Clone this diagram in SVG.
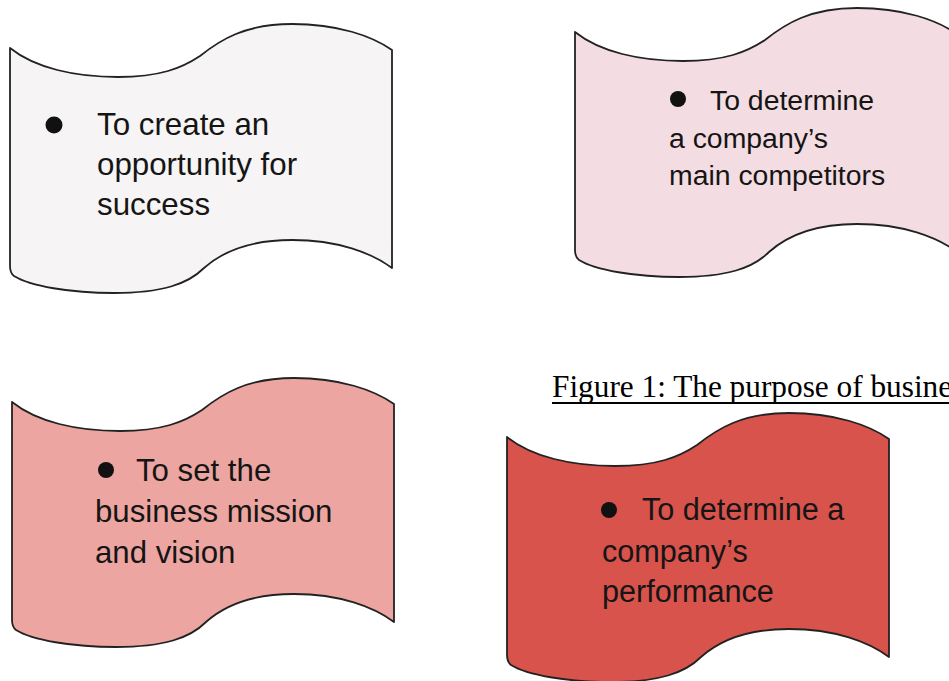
<svg xmlns="http://www.w3.org/2000/svg" xmlns:xlink="http://www.w3.org/1999/xlink" width="949" height="681" viewBox="0 0 949 681">
<style>
.flag{stroke:#222;stroke-width:1.8;stroke-linejoin:round}
.t{font-family:"Liberation Sans",Arial,sans-serif;fill:#151515}
.dot{fill:#111}
.cap{font-family:"Liberation Serif","Times New Roman",serif;font-size:31.3px;fill:#000}
</style>
<defs>
<path id="flagShape" d="M0,0 C25,20 65,29 108,29 C150,29 172,20 190,8 C210,-8 235,-24 282,-24 C328,-24 362,-12 382,2 L382,220 C362,205 328,192 282,192 C238,192 212,204 194,220 C178,236 152,245 104,245 C60,245 20,238 4,228 Q0,225 0,218 Z"/>
</defs>
<rect width="949" height="681" fill="#ffffff"/>
<g id="node-opportunity">
<use xlink:href="#flagShape" href="#flagShape" class="flag" fill="#f6f4f4" transform="translate(10,48)"/>
<circle class="dot" cx="54" cy="125" r="8.5"/>
<text class="t" font-size="31.3"><tspan x="97" y="135">To create an</tspan><tspan x="97" y="175">opportunity for</tspan><tspan x="97" y="215">success</tspan></text>
</g>
<g id="node-competitors">
<use xlink:href="#flagShape" href="#flagShape" class="flag" fill="#f4dde2" transform="translate(575,32)"/>
<circle class="dot" cx="678" cy="99" r="8"/>
<text class="t" font-size="28.4"><tspan x="710" y="110">To determine</tspan><tspan x="669" y="148">a company’s</tspan><tspan x="669" y="185">main competitors</tspan></text>
</g>
<g id="node-mission">
<use xlink:href="#flagShape" href="#flagShape" class="flag" fill="#eca5a0" transform="translate(12,402)"/>
<circle class="dot" cx="106" cy="470" r="8"/>
<text class="t" font-size="31.2"><tspan x="136" y="481">To set the</tspan><tspan x="95" y="522">business mission</tspan><tspan x="95" y="563">and vision</tspan></text>
</g>
<g id="node-performance">
<use xlink:href="#flagShape" href="#flagShape" class="flag" fill="#d8534b" transform="translate(507,437)"/>
<circle class="dot" cx="609" cy="510" r="8"/>
<text class="t" font-size="30.6"><tspan x="642" y="520">To determine a</tspan><tspan x="602" y="562">company’s</tspan><tspan x="602" y="602">performance</tspan></text>
</g>
<g id="caption">
<text class="cap" x="552" y="397">Figure 1: The purpose of busine</text>
<line x1="552" y1="403" x2="949" y2="403" stroke="#000" stroke-width="2"/>
</g>
<g id="connectors"></g>
</svg>
